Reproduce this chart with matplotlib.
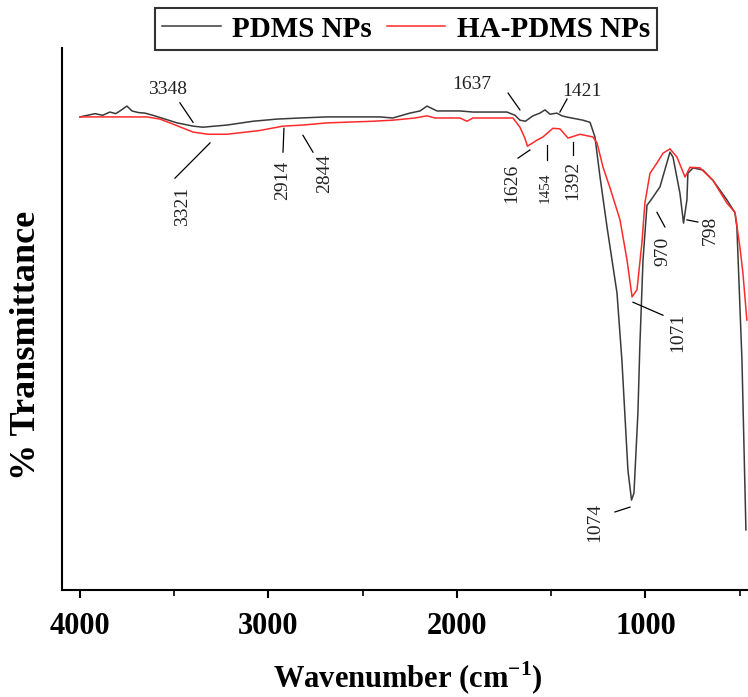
import matplotlib
matplotlib.use('Agg')
import matplotlib.pyplot as plt

plt.rcParams['font.family'] = ['Liberation Serif', 'DejaVu Serif']
plt.rcParams['mathtext.fontset'] = 'custom'
plt.rcParams['mathtext.rm'] = 'Liberation Serif'
plt.rcParams['mathtext.bf'] = 'Liberation Serif:bold'

# PDMS NPs spectrum (wavenumber, %T)
pdms_wn = [4000, 3920, 3880, 3841, 3810, 3788, 3751, 3724, 3690, 3655, 3613, 3549, 3485,
           3400, 3348, 3220, 3082, 2955, 2833, 2690, 2408, 2340, 2250, 2196, 2159, 2106,
           1984, 1915, 1735, 1692, 1666, 1637, 1597, 1560, 1533, 1507, 1470, 1443, 1421,
           1332, 1294, 1268, 1241, 1204, 1151, 1125, 1093, 1074, 1061, 1040, 1030, 1013,
           992, 970, 923, 870, 854, 817, 798, 780, 775, 748, 695, 642, 568, 525, 515,
           488, 467]
pdms_t = [87.3, 87.9, 87.6, 88.2, 87.9, 88.4, 89.3, 88.4, 88.1, 88.0, 87.6, 86.9, 86.2,
          85.6, 85.4, 85.8, 86.5, 86.9, 87.1, 87.3, 87.3, 87.1, 88.0, 88.4, 89.3, 88.4,
          88.4, 88.2, 88.2, 87.6, 86.7, 86.5, 87.5, 88.0, 88.6, 87.8, 88.0, 87.5, 87.3,
          86.7, 86.3, 83.6, 76.2, 67.0, 54.8, 42.4, 22.1, 16.6, 17.9, 32.7, 44.8, 60.9,
          71.0, 72.0, 74.4, 80.8, 79.9, 73.2, 67.7, 72.0, 76.9, 77.9, 77.5, 75.6, 72.0,
          69.6, 67.0, 42.4, 11.1]

# HA-PDMS NPs spectrum
ha_wn = [4000, 3645, 3576, 3523, 3400, 3321, 3220, 3045, 2923, 2817, 2690, 2446, 2340,
         2223, 2159, 2117, 1984, 1947, 1915, 1703, 1666, 1640, 1626, 1576, 1544, 1491,
         1454, 1411, 1392, 1347, 1279, 1257, 1225, 1188, 1135, 1098, 1071, 1045, 1019,
         1003, 976, 939, 907, 870, 833, 790, 764, 711, 642, 568, 525, 499, 483, 462]
ha_t = [87.3, 87.3, 86.9, 86.2, 84.5, 84.1, 84.1, 84.8, 85.6, 85.8, 86.2, 86.5, 86.7,
        87.1, 87.5, 87.1, 87.1, 86.5, 87.1, 87.1, 85.4, 83.4, 81.9, 83.0, 83.6, 85.2,
        85.1, 83.4, 83.6, 84.1, 83.6, 82.5, 78.0, 74.2, 68.3, 60.9, 54.1, 55.4, 64.0,
        71.4, 76.9, 78.8, 80.6, 81.4, 79.9, 76.2, 78.0, 77.9, 75.6, 71.4, 69.7, 63.3,
        58.5, 49.8]

# peak labels: text, text position, pointer start, pointer end, rotation, size
peak_labels = [
    ('3348', (3533, 92.3), (3470, 89.9), (3400, 86.3), 0, 14),
    ('3321', (3454, 70.7), (3496, 76.0), (3310, 82.5), 90, 14),
    ('2914', (2923, 75.6), (2923, 80.8), (2918, 85.2), 90, 14),
    ('2844', (2700, 76.9), (2764, 80.8), (2817, 83.9), 90, 14),
    ('1637', (1920, 93.2), (1729, 91.7), (1666, 88.6), 0, 14),
    ('1421', (1337, 91.9), (1416, 90.6), (1454, 88.2), 0, 14),
    ('1626', (1708, 75.1), (1676, 79.7), (1613, 81.2), 90, 14),
    ('1454', (1533, 74.2), (1523, 82.1), (1523, 79.3), 90, 11),
    ('1392', (1385, 75.6), (1385, 82.7), (1385, 80.3), 90, 14),
    ('970', (907, 62.4), (939, 69.7), (897, 67.0), 90, 14),
    ('798', (658, 66.4), (780, 68.3), (722, 67.9), 90, 14),
    ('1071', (828, 47.6), (1066, 53.1), (907, 50.7), 90, 14),
    ('1074', (1268, 12.4), (1162, 14.4), (1082, 15.3), 90, 14),
]

fig = plt.figure(figsize=(7.48, 6.97), dpi=100)
ax = fig.add_axes([0.083, 0.1535, 0.917, 0.7775])

ax.plot(pdms_wn, pdms_t, color='#3a3a3a', lw=1.1, label='PDMS NPs')
ax.plot(ha_wn, ha_t, color='#ff2a2a', lw=1.1, label='HA-PDMS NPs')

for txt, tpos, p0, p1, rot, fs in peak_labels:
    ax.plot([p0[0], p1[0]], [p0[1], p1[1]], color='black', lw=0.9)
    ax.text(tpos[0], tpos[1], txt, rotation=rot, fontsize=fs,
            ha='center', va='center', color='#222222')

ax.set_xlim(4095, 456)
ax.set_ylim(0, 100)
ax.set_xticks([4000, 3000, 2000, 1000])
ax.set_xticks([3500, 2500, 1500, 500], minor=True)
ax.set_yticks([])
ax.spines['top'].set_visible(False)
ax.spines['right'].set_visible(False)
ax.spines['left'].set_linewidth(1.5)
ax.spines['bottom'].set_linewidth(1.5)
ax.tick_params(axis='x', which='major', length=6, width=1.5, labelsize=22, pad=10)
ax.tick_params(axis='x', which='minor', length=4, width=1.2)
for lab in ax.get_xticklabels():
    lab.set_fontweight('bold')

ax.set_xlabel('Wavenumber (cm$^{\\mathbf{-1}}$)', fontsize=22, fontweight='bold')
ax.xaxis.set_label_coords(0.504, -0.128)
ax.set_ylabel('% Transmittance', fontsize=26, fontweight='bold')
ax.yaxis.set_label_coords(-0.028, 0.452)

leg = fig.legend(loc='upper center', bbox_to_anchor=(0.543, 0.988), ncol=2,
                 prop={'weight': 'bold', 'size': 21}, frameon=True, fancybox=False,
                 edgecolor='black', handlelength=2.0, handletextpad=0.4,
                 columnspacing=0.5, borderpad=0.25, borderaxespad=0)
leg.get_frame().set_linewidth(1.5)

fig.savefig('out.png', dpi=100)
